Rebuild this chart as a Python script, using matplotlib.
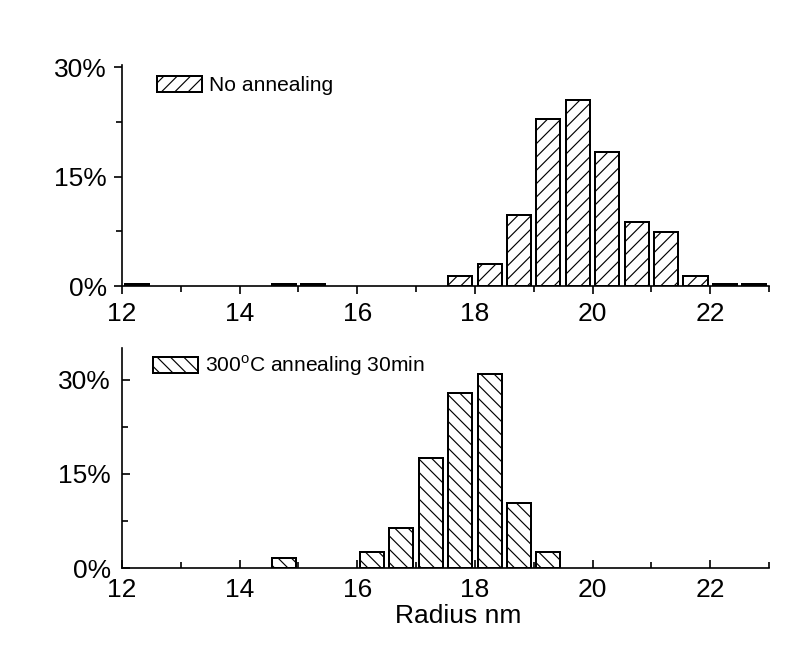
import matplotlib
matplotlib.use("Agg")
import matplotlib.pyplot as plt
from matplotlib.patches import Patch
from matplotlib.ticker import MultipleLocator, FuncFormatter

plt.rcParams["font.family"] = ["Liberation Sans", "DejaVu Sans"]
plt.rcParams["mathtext.fontset"] = "custom"
plt.rcParams["mathtext.rm"] = "Liberation Sans"
plt.rcParams["hatch.linewidth"] = 0.7

# ---- dados (radius nm, % de particulas) ----
radius_a = [12.25, 14.75, 15.25, 17.75, 18.25, 18.75, 19.25, 19.75, 20.25,
            20.75, 21.25, 21.75, 22.25, 22.75]
pct_a = [0.3, 0.3, 0.3, 1.35, 3.0, 9.8, 22.9, 25.5, 18.4, 8.8, 7.4, 1.35, 0.3, 0.3]
radius_b = [14.75, 16.25, 16.75, 17.25, 17.75, 18.25, 18.75, 19.25]
pct_b = [1.6, 2.5, 6.4, 17.5, 27.9, 30.9, 10.4, 2.5]
label_a = "No annealing"
label_b = "300$^{\\mathrm{o}}$C annealing 30min"

W, H, DPI = 801, 671, 120
fig = plt.figure(figsize=(W / DPI, H / DPI), dpi=DPI)
ax1 = fig.add_axes([122 / W, 1 - 286 / H, 647 / W, 221 / H])
ax2 = fig.add_axes([122 / W, 1 - 568 / H, 647 / W, 220 / H])

fs_tick = 15.8
fs = 12.6
pct = FuncFormatter(lambda v, p: f"{v:.0f}%")

def style(ax, ymax, direction, xpad, ypad):
    for s in ("top", "right"):
        ax.spines[s].set_visible(False)
    for s in ("left", "bottom"):
        ax.spines[s].set_linewidth(1.0)
    ax.set_xlim(12, 23)
    ax.set_ylim(0, ymax)
    ax.xaxis.set_major_locator(MultipleLocator(2))
    ax.xaxis.set_minor_locator(MultipleLocator(1))
    ax.yaxis.set_major_locator(MultipleLocator(15))
    ax.yaxis.set_minor_locator(MultipleLocator(7.5))
    ax.yaxis.set_major_formatter(pct)
    ax.tick_params(which="major", direction=direction, length=5, width=1.0, labelsize=fs_tick)
    ax.tick_params(which="minor", direction=direction, length=3.5, width=1.0)
    ax.tick_params(axis="x", which="major", pad=xpad)
    ax.tick_params(axis="y", which="major", pad=ypad)

ax1.bar(radius_a, pct_a, width=0.41, color="white", edgecolor="black",
        linewidth=1.2, hatch="///", zorder=3)
ax2.bar(radius_b, pct_b, width=0.41, color="white", edgecolor="black",
        linewidth=1.2, hatch="\\\\\\", zorder=3)

style(ax1, 30.3, "out", 4.5, 4)
style(ax2, 35.1, "in", 6, 6.5)
ax2.set_xlabel("Radius nm", fontsize=fs_tick, labelpad=1, x=0.52)

for ax, lab, h, x0, y0 in ((ax1, label_a, "///", 0.054, 0.907),
                           (ax2, label_b, "\\\\\\", 0.048, 0.918)):
    p = Patch(facecolor="white", edgecolor="black", hatch=h, linewidth=1.2)
    ax.legend([p], [lab], loc="center left", bbox_to_anchor=(x0, y0),
              frameon=False, fontsize=fs, handlelength=2.15, handleheight=0.8,
              handletextpad=0.33, borderpad=0, borderaxespad=0)

fig.savefig("out.png", dpi=DPI)
